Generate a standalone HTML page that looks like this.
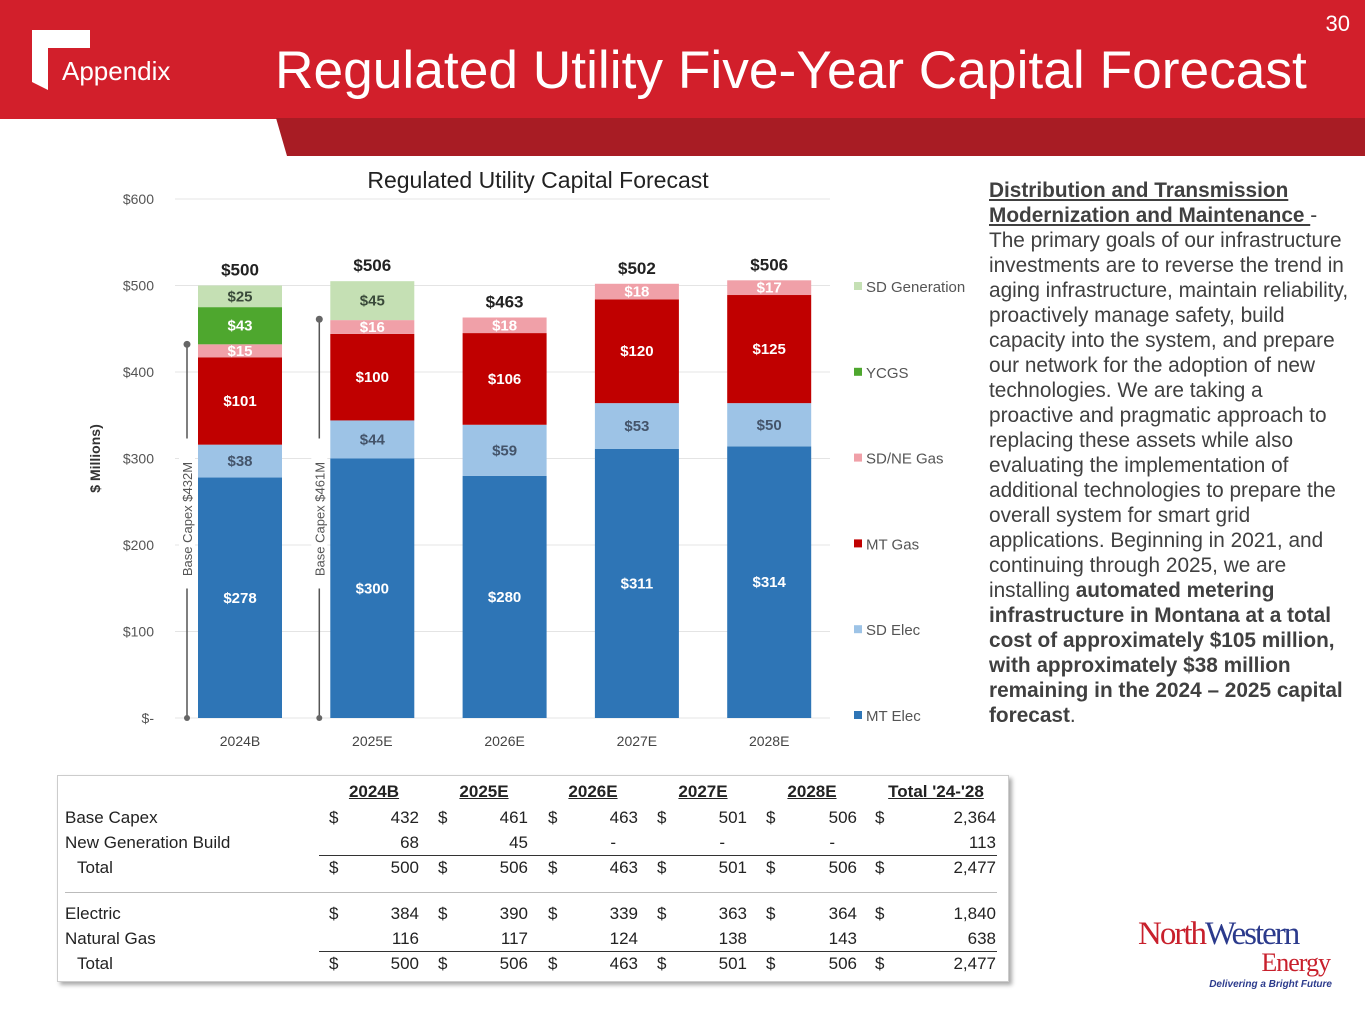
<!DOCTYPE html>
<html><head><meta charset="utf-8">
<style>
body{margin:0;width:1365px;height:1024px;background:#fff;position:relative;overflow:hidden;font-family:"Liberation Sans",sans-serif;}
.abs{position:absolute;}
#body-text{left:989px;top:178px;width:376px;font-size:20.8px;line-height:25px;color:#404040;white-space:nowrap;}
#body-text u{font-weight:bold;}
#body-text b{color:#404040;}
.tb{position:absolute;left:57px;top:775px;width:950px;height:205px;border:1px solid #ccc;box-shadow:3px 3px 4px #aaa;background:#fff;}
.tt{position:absolute;font-size:17px;color:#222;white-space:nowrap;}
</style></head><body>
<svg class="abs" style="left:0;top:0" width="1365" height="160">
<rect x="0" y="0" width="1365" height="119" fill="#d21f2b"/>
<polygon points="276,118 1365,118 1365,156 287,156" fill="#a81c24"/>
<polygon points="32,30 90,30 90,48 48,48 48,90 32,82" fill="#fff"/>
<text x="62" y="80" font-size="26" fill="#fff" font-family="Liberation Sans">Appendix</text>
<text x="275" y="88" font-size="53.3" fill="#fff" font-family="Liberation Sans">Regulated Utility Five-Year Capital Forecast</text>
<text x="1350" y="31" font-size="22" fill="#fff" text-anchor="end" font-family="Liberation Sans">30</text>
</svg>

<svg id="chart" class="abs" style="left:0;top:160px" width="985" height="600"></svg>

<div id="body-text" class="abs"><u>Distribution and Transmission</u><br><u>Modernization and Maintenance </u> -<br>The primary goals of our infrastructure<br>investments are to reverse the trend in<br>aging infrastructure, maintain reliability,<br>proactively manage safety, build<br>capacity into the system, and prepare<br>our network for the adoption of new<br>technologies. We are taking a<br>proactive and pragmatic approach to<br>replacing these assets while also<br>evaluating the implementation of<br>additional technologies to prepare the<br>overall system for smart grid<br>applications. Beginning in 2021, and<br>continuing through 2025, we are<br>installing <b>automated metering<br>infrastructure in Montana at a total<br>cost of approximately $105 million,<br>with approximately $38 million<br>remaining in the 2024 – 2025 capital<br>forecast</b>.</div>

<div class="tb"></div>

<div class="abs" style="left:1138px;top:918px;width:200px;">
<div style="font-family:'Liberation Serif',serif;font-size:33px;letter-spacing:-2px;line-height:32px;"><span style="color:#c8202c">North</span><span style="color:#2b3a8c">Western</span></div>
<div style="font-family:'Liberation Serif',serif;font-size:26px;color:#c8202c;text-align:right;padding-right:8px;line-height:26px;letter-spacing:-1px">Energy</div>
<div style="font-size:10px;font-weight:bold;font-style:italic;color:#2b3a8c;text-align:right;padding-right:6px;margin-top:3px">Delivering a Bright Future</div>
</div>

<script>
const categories=["2024B","2025E","2026E","2027E","2028E"];
const seriesNames=["MT Elec","SD Elec","MT Gas","SD/NE Gas","YCGS","SD Generation"];
const mtElec=[278,300,280,311,314];
const sdElec=[38,44,59,53,50];
const mtGas=[101,100,106,120,125];
const sdneGas=[15,16,18,18,17];
const ycgs=[43,0,0,0,0];
const sdGen=[25,45,0,0,0];
const totalLabels=["$500","$506","$463","$502","$506"];
const yTicks=[0,100,200,300,400,500,600];
const yTickLabels=["$-","$100","$200","$300","$400","$500","$600"];
const baseCapex=[432,461];
const baseCapexLabels=["Base Capex $432M","Base Capex $461M"];

const colors=["#2e75b6","#9dc3e6","#c00000","#f0a0a8","#4ea72e","#c5e0b4"];
const labelColors=["#fff","#44546a","#fff","#fff","#fff","#3a4a3a"];
const series=[mtElec,sdElec,mtGas,sdneGas,ycgs,sdGen];
const svg=document.getElementById('chart');
const NS="http://www.w3.org/2000/svg";
const OY=160;
function y(v){return 718-OY-v*0.865;}
function x(i){return 240+i*132.3;}
const bw=84;
function mk(t,a,txt){const e=document.createElementNS(NS,t);for(const k in a)e.setAttribute(k,a[k]);if(txt!==undefined)e.textContent=txt;svg.appendChild(e);return e;}
let e=mk('text',{x:538,y:28,'font-size':23,'text-anchor':'middle',fill:'#222','font-family':'Liberation Sans'},'Regulated Utility Capital Forecast');


yTicks.forEach((t,i)=>{
 const l=mk('line',{x1:175,x2:830,y1:y(t),y2:y(t),stroke:'#e4e4e4','stroke-width':1});
 
 
 const tx=mk('text',{x:154,y:y(t)+5,'font-size':14,'text-anchor':'end',fill:'#555','font-family':'Liberation Sans'},yTickLabels[i]);
 
 
});
e=mk('text',{x:0,y:0,'font-size':14,'font-weight':'bold','text-anchor':'middle',fill:'#333',transform:`translate(100,${y(300)}) rotate(-90)`,'font-family':'Liberation Sans'},'$ Millions)');


categories.forEach((c,i)=>{
 let acc=0;
 series.forEach((s,k)=>{
  const v=s[i]; if(!v)return;
  const r=mk('rect',{x:x(i)-bw/2,y:y(acc+v),width:bw,height:v*0.865,fill:colors[k]});
  
  
  const t=mk('text',{x:x(i),y:y(acc+v/2)+5,'font-size':15,'font-weight':'bold','text-anchor':'middle',fill:labelColors[k],'font-family':'Liberation Sans'},'$'+v);
  
  
  acc+=v;
 });
 const tl=mk('text',{x:x(i),y:y(acc)-10,'font-size':17,'font-weight':'bold','text-anchor':'middle',fill:'#222','font-family':'Liberation Sans'},totalLabels[i]);
 
 
 const xl=mk('text',{x:x(i),y:y(0)+28,'font-size':14,'text-anchor':'middle',fill:'#444','font-family':'Liberation Sans'},c);
 
 
});
baseCapex.forEach((v,i)=>{
 const lx=x(i)-53;
 const l=mk('line',{x1:lx,x2:lx,y1:y(v)+2,y2:y(0),stroke:'#555','stroke-width':1.5});
 
 
 mk('circle',{cx:lx,cy:y(v),r:3.5,fill:'#666'});
 mk('circle',{cx:lx,cy:y(0),r:3,fill:'#666'});
 mk('rect',{x:lx-8,y:y(300)-20,width:16,height:150,fill:'#fff'});
 const t=mk('text',{x:0,y:0,'font-size':13,'text-anchor':'middle',fill:'#555',transform:`translate(${lx+5},${y(230)}) rotate(-90)`,'font-family':'Liberation Sans'},baseCapexLabels[i]);
 
 
});
for(let k=5;k>=0;k--){
 const ly=287-OY+(5-k)*85.8;
 const r=mk('rect',{x:854,y:ly-5,width:8,height:8,fill:colors[k]});
 
 
 const t=mk('text',{x:866,y:ly+5,'font-size':15,fill:'#555','font-family':'Liberation Sans'},seriesNames[k]);
 
 
}

const headers=["2024B","2025E","2026E","2027E","2028E","Total '24-'28"];
const headerX=[374,484,593,703,812,936];
const dollarX=[334,443,553,662,771,880];
const valX=[419,528,638,747,857,996];
const rows=[
 ["Base Capex",["432","461","463","501","506","2,364"],true,818],
 ["New Generation Build",["68","45","-","-","-","113"],false,843],
 ["  Total",["500","506","463","501","506","2,477"],true,868],
 ["Electric",["384","390","339","363","364","1,840"],true,914],
 ["Natural Gas",["116","117","124","138","143","638"],false,939],
 ["  Total",["500","506","463","501","506","2,477"],true,964]];
function div(css,txt,name){const d=document.createElement('div');d.className='tt';d.style.cssText=css;d.textContent=txt;
 
 
 document.body.appendChild(d);return d;}
headers.forEach((h,i)=>div(`left:${headerX[i]-70}px;width:140px;text-align:center;top:782px;font-weight:bold;text-decoration:underline;`,h,'column-header'));
rows.forEach(r=>{
 div(`left:${r[0].startsWith(' ')?77:65}px;top:${r[3]-10}px;`,r[0].trim(),'row-label');
 r[1].forEach((v,i)=>{
  if(r[2])div(`left:${dollarX[i]-5}px;top:${r[3]-10}px;`,'$','dollar-sign');
  const xr=v==='-'?valX[i]-22:valX[i];
  div(`left:${xr-100}px;width:100px;text-align:right;top:${r[3]-10}px;`,v,'table-value');
 });
});
[[319,855,997],[65,892,997],[319,951,997]].forEach(l=>{const d=document.createElement('div');d.style.cssText=`position:absolute;left:${l[0]}px;top:${l[1]}px;width:${l[2]-l[0]}px;height:1px;background:${l[0]===65?'#bbb':'#333'}`;
 
 
 document.body.appendChild(d);});
</script>
</body></html>
